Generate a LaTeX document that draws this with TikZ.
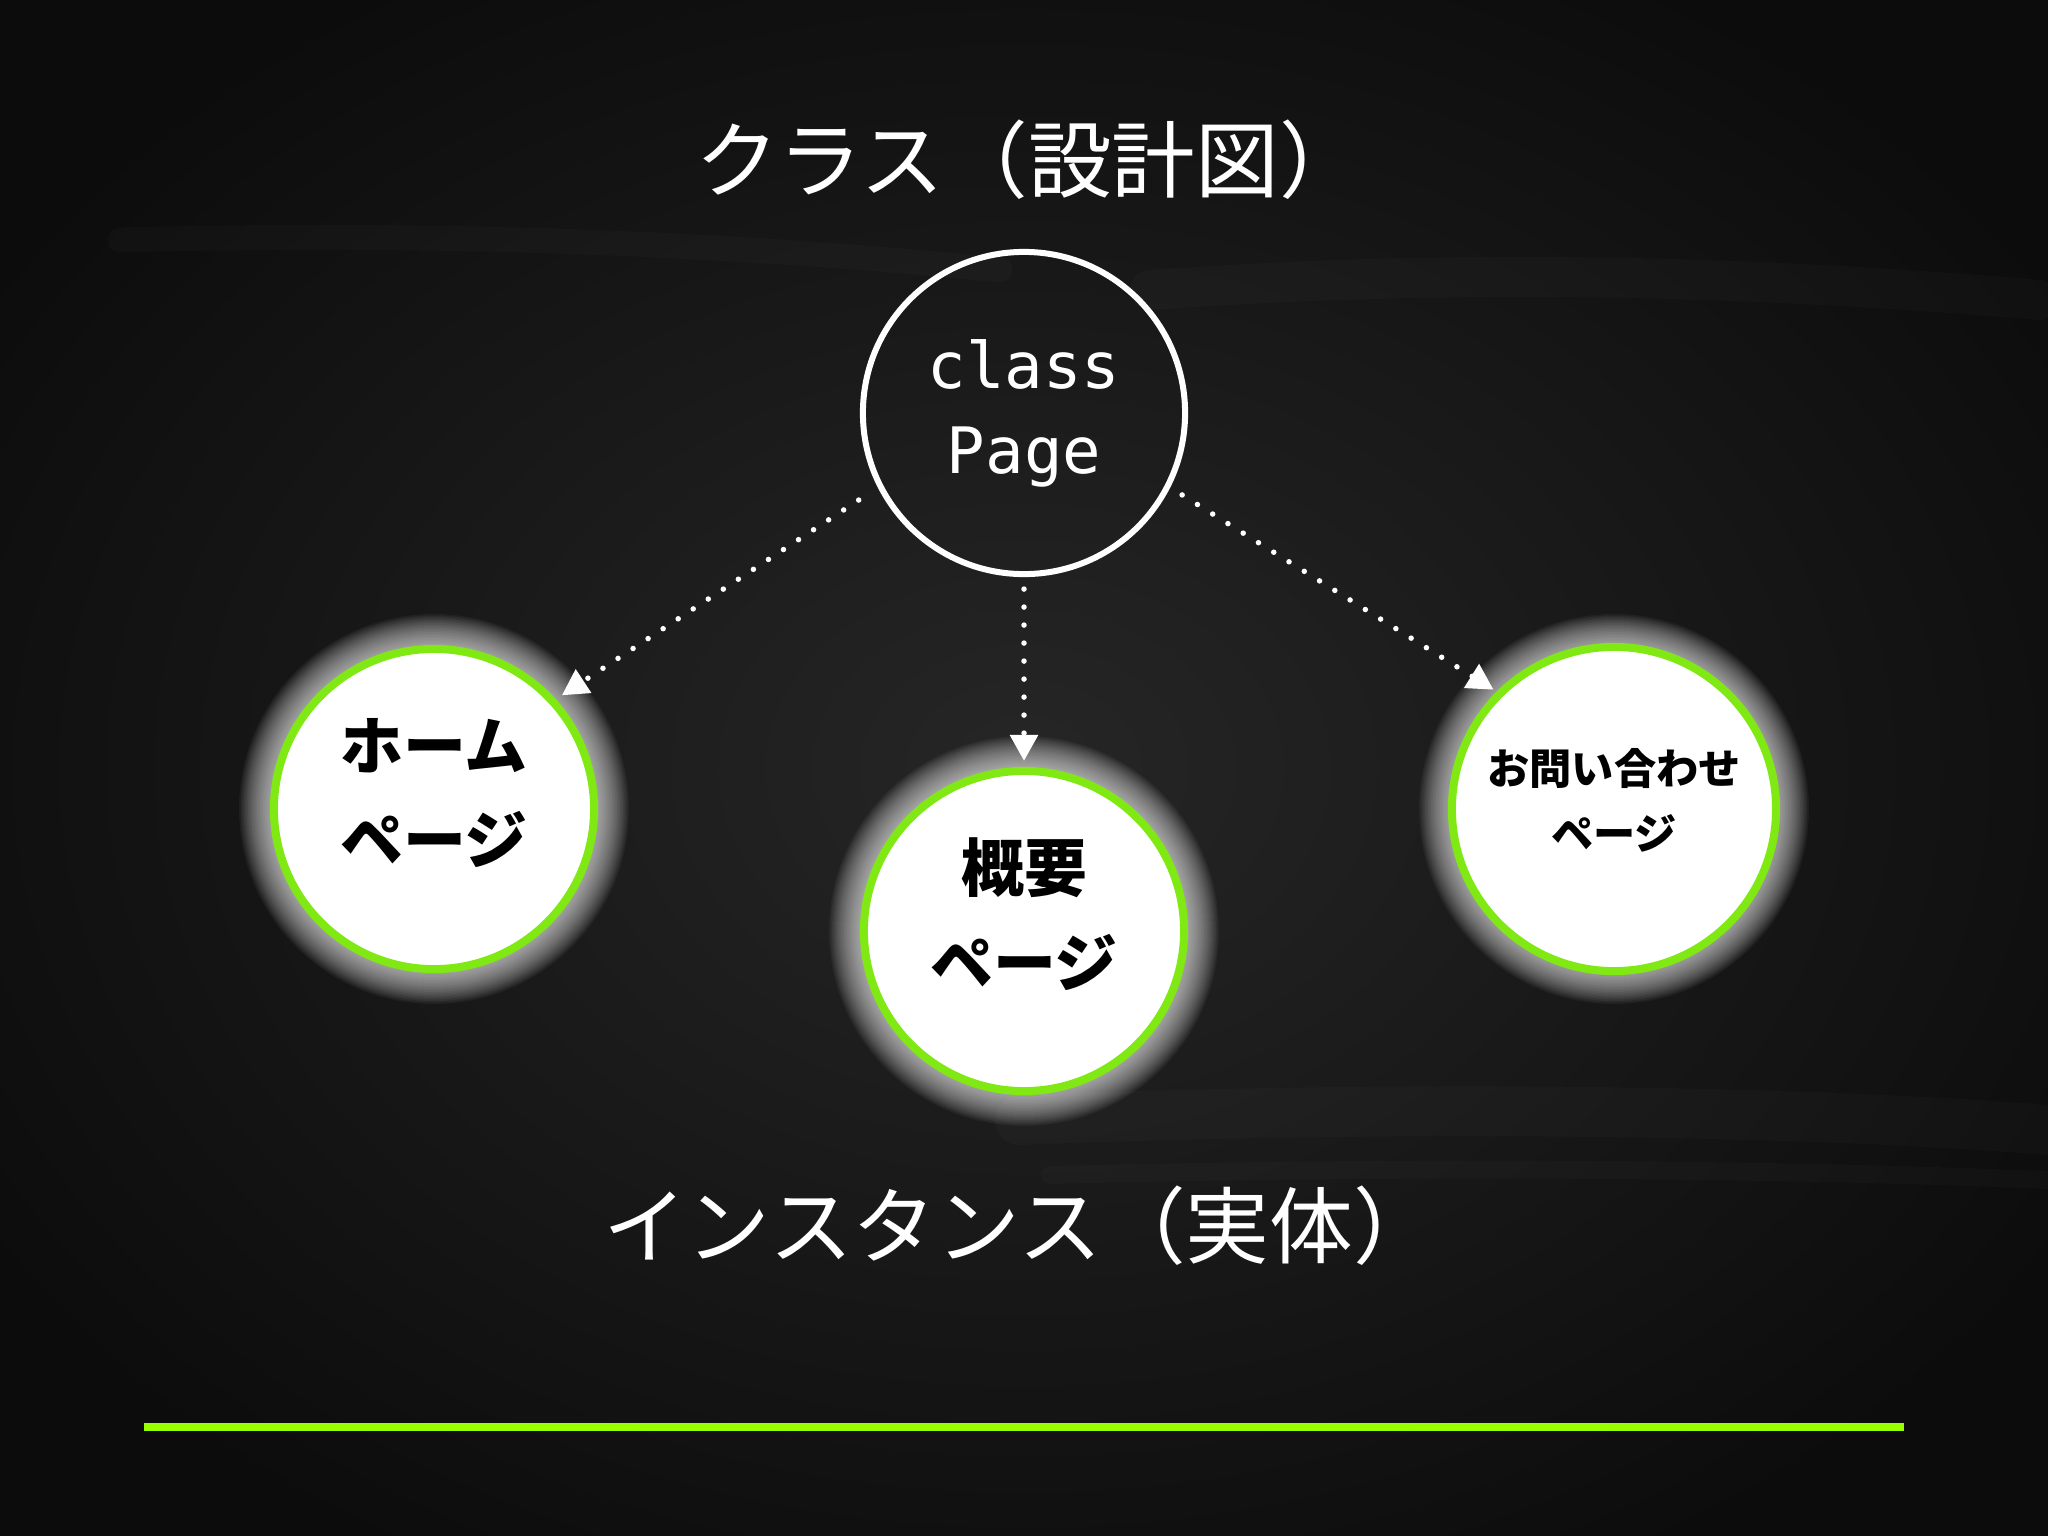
\documentclass[tikz,border=0pt]{standalone}
\usepackage{fontspec}
\newfontfamily\cjk{Noto Sans CJK JP}
\newfontfamily\monofnt{DejaVu Sans Mono}
\usetikzlibrary{arrows.meta}
\definecolor{bgin}{RGB}{38,38,38}
\definecolor{bgout}{RGB}{12,12,12}
\definecolor{rim}{RGB}{128,232,18}
\definecolor{barcol}{RGB}{153,255,0}
\begin{document}
\begin{tikzpicture}[x=0.01cm,y=-0.01cm,
  pagecircle/.style={circle, draw=rim, fill=white, line width=2.28pt, minimum size=3.2cm, inner sep=0pt},
  classcircle/.style={circle, draw=white, line width=1.71pt, minimum size=3.22cm, inner sep=0pt,
     text=white, align=center, font=\monofnt\fontsize{18.2pt}{24.2pt}\selectfont},
  bigtext/.style={text=black, align=center, font=\cjk\bfseries\fontsize{17.9pt}{27pt}\selectfont},
  smalltext/.style={text=black, align=center, font=\cjk\bfseries\fontsize{12pt}{18.5pt}\selectfont},
  titletext/.style={text=white, font=\cjk\fontsize{23.8pt}{27pt}\selectfont},
  dotarrow/.style={white, line width=1.57pt, line cap=round, dash pattern=on 0pt off 5.12pt,
     -{Triangle[length=7.4pt,width=7.7pt]}},
  streak/.style={white, opacity=0.02, line cap=round},
  glow/.style={white, opacity=0.045}
]
\useasboundingbox (0,0) rectangle (2048,1536);
% background
\shade[inner color=bgin, outer color=bgout] (-200,-150) rectangle (2248,1686);
\draw[streak, line width=11.4pt] (1150,290) .. controls (1500,265) and (1800,280) .. (2040,300);
\draw[streak, line width=7.1pt] (120,240) .. controls (500,230) and (800,250) .. (1000,270);
\draw[streak, line width=14.2pt] (1020,1120) .. controls (1400,1105) and (1800,1110) .. (2048,1130);
\draw[streak, line width=5.1pt] (1050,1175) .. controls (1450,1165) and (1800,1170) .. (2048,1180);
% circle centres
\coordinate (hc) at (434,809);
\coordinate (ac) at (1024,931);
\coordinate (cc) at (1614,809);
% glows
\foreach \c in {hc,ac,cc}{
  \foreach \r in {165,166.5,...,196}{
    \fill[glow] (\c) circle (\r);
  }
}
% nodes
\node[classcircle] (cls) at (1024,413) {class\\Page};
\node[pagecircle] (home) at (hc) {};
\node[pagecircle] (about) at (ac) {};
\node[pagecircle, minimum size=3.24cm] (contact) at (cc) {};
\node[bigtext] (homeT) at (434,793) {ホーム\\ページ};
\node[bigtext] (aboutT) at (1024,914) {概要\\ページ};
\node[smalltext] (contactT) at (1614,800) {お問い合わせ\\ページ};
\node[titletext] (ttl) at (1029,160) {クラス（設計図）};
\node[titletext] (inst) at (1020,1226) {インスタンス（実体）};
% connectors
\draw[dotarrow, shorten <=6.5pt, shorten >=2pt] (cls.207) -- (home.42);
\draw[dotarrow, shorten <=3.4pt, shorten >=1.7pt] (cls.south) -- (about.north);
\draw[dotarrow, shorten <=4pt, shorten >=1pt] (cls.-27) -- (contact.135);
% bottom bar
\coordinate (barL) at (144,1427);
\coordinate (barR) at (1904,1427);
\draw[barcol, line width=2.28pt] (barL) -- (barR);
\end{tikzpicture}
\end{document}
